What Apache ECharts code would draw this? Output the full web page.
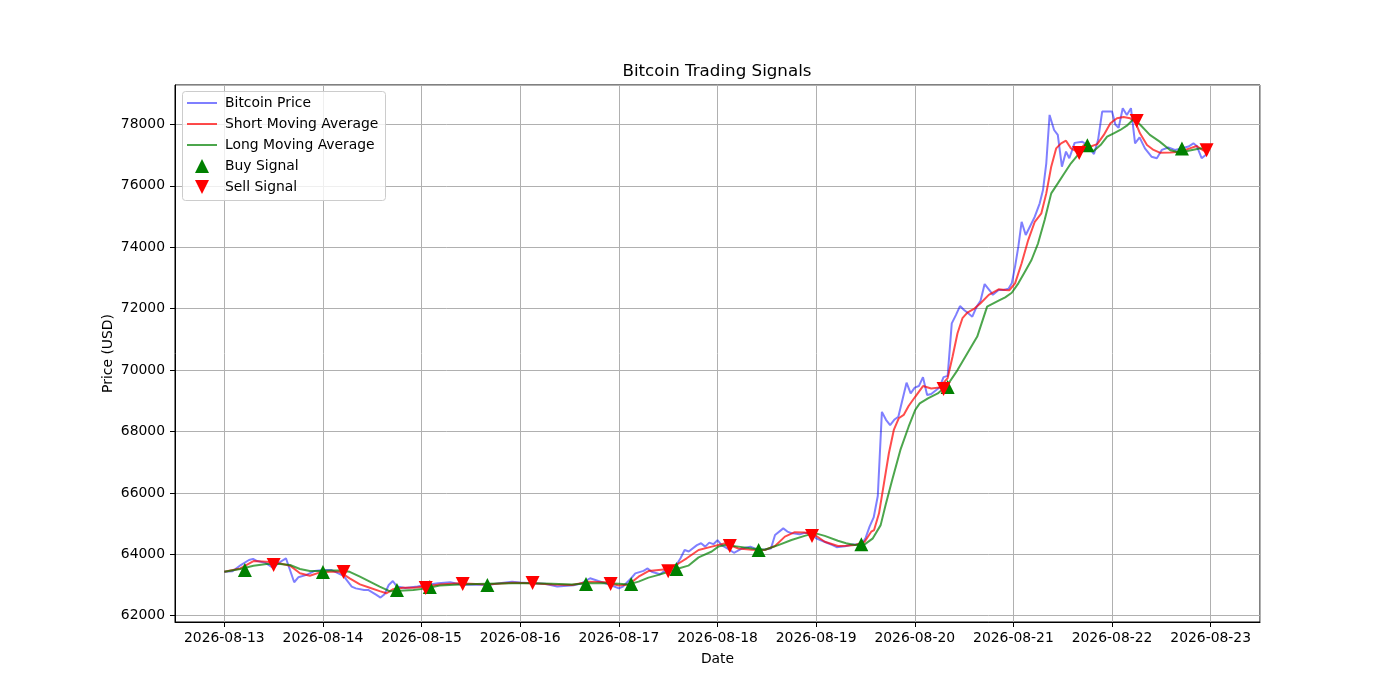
<!DOCTYPE html>
<html>
<head>
<meta charset="utf-8">
<title>Bitcoin Trading Signals</title>
<script src="https://cdn.jsdelivr.net/npm/echarts@6/dist/echarts.min.js"></script>
<style>
  html, body { margin: 0; padding: 0; background: #fff; }
  #main { width: 1400px; height: 700px; }
</style>
</head>
<body>
<div id="main"></div>
<script>
// Hours after 2026-08-13 00:00 and the values
var priceHours = [0, 2, 4, 6, 7, 8, 10, 12, 13, 15, 17, 18, 20, 22, 24, 26, 27, 29, 31, 32,
    34, 35, 37, 38, 39, 40, 41, 42, 44, 47, 49, 52, 55, 58, 60, 64, 67, 70, 72, 75,
    78, 81, 85, 87, 89, 91, 94, 96, 97, 99, 100, 102, 103, 104, 106, 108, 110, 111, 112, 113,
    115, 116, 117, 118, 119, 120, 121, 123, 124, 126, 128, 129, 131, 133, 134, 136, 137, 138, 140, 141,
    143, 144, 146, 148, 149, 151, 153, 155, 156, 157, 158, 159, 160, 161, 162, 163, 164, 166, 167, 168,
    169, 170, 171, 172, 174, 175, 176, 177, 178, 179, 180, 181, 182, 183, 184, 185, 186.2, 187, 188.4, 189.6,
    190.8, 191.6, 192.4, 193.2, 194, 195, 196, 197.2, 198.4, 199.2, 200, 200.8, 201.9, 202.8, 203.8, 204.8, 205.6, 206.9, 208.7, 210,
    211.6, 212.6, 213.6, 216, 216.8, 217.6, 218.6, 219.6, 220.6, 221.6, 222.7, 224, 225.6, 226.9, 228.1, 229.7, 231.3, 232.9, 234.6, 235.8,
    236.6, 237.8, 239.3];
var priceValues = [63430, 63450, 63650, 63815, 63850, 63780, 63720, 63550, 63700, 63870, 63090, 63250, 63330, 63460, 63490, 63490, 63430, 63300, 62950, 62890,
    62840, 62840, 62680, 62590, 62700, 63000, 63130, 62950, 62900, 62950, 63000, 63060, 63090, 63000, 63020, 63000, 63060, 63110, 63080, 63060,
    63040, 62950, 62990, 63060, 63220, 63130, 63000, 62890, 62950, 63220, 63380, 63460, 63540, 63430, 63350, 63540, 63650, 63870, 64140, 64090,
    64300, 64360, 64250, 64380, 64330, 64460, 64300, 64140, 64050, 64190, 64250, 64190, 64150, 64190, 64630, 64845, 64740, 64690, 64650, 64690,
    64690, 64520, 64410, 64300, 64230, 64260, 64320, 64320, 64520, 64900, 65200, 65900, 68640, 68380, 68210, 68380, 68480, 69590, 69240, 69430,
    69480, 69770, 69190, 69220, 69430, 69770, 69810, 71520, 71790, 72085, 71955, 71850, 71740, 72050, 72260, 72800, 72600, 72450, 72610, 72610,
    72650, 72825, 73370, 74020, 74830, 74400, 74670, 74995, 75430, 75865, 76735, 78310, 77820, 77660, 76625, 77115, 76900, 77400, 77440, 77330,
    77035, 77500, 78420, 78420, 78000, 77890, 78530, 78310, 78530, 77385, 77580, 77220, 76950, 76900, 77170, 77250, 77170, 77220, 77280, 77385,
    77300, 76900, 77060];

var shortHours = [0, 3.9, 7.1, 10.3, 13.6, 16, 18.4, 20.8, 23.3, 25.7, 28.1, 30.5, 33, 35.4, 37.8, 39.4, 41, 43.5, 46, 48.4,
    52.4, 57.2, 63.7, 70.1, 74.9, 79.8, 84.6, 88.7, 92.7, 96, 98.4, 100.8, 103.2, 105.7, 108.1, 110.5, 112.5, 115.4, 118.6, 121.9,
    125.1, 128.4, 131.5, 134, 136.4, 138.8, 141.2, 143.7, 146.1, 149.3, 151.3, 153.4, 155.8, 157.4, 158.1, 159.3, 160.5, 161.7, 162.9, 164.1,
    165.3, 166.5, 168.1, 170, 172, 174, 176, 177.2, 178.4, 179.6, 180.8, 182.4, 184, 186, 188.4, 190, 191, 192.4, 194, 195.6,
    197.2, 198.8, 200, 201.2, 202.4, 203.6, 204.8, 206, 207.6, 209.2, 210.8, 212.4, 214, 215.6, 217.2, 218.8, 220.4, 221.6, 222.8, 224.5,
    226.1, 227.6, 230.1, 232.5, 234.9, 236.6, 238.2, 239.3];
var shortValues = [63430, 63540, 63780, 63760, 63700, 63630, 63380, 63300, 63410, 63430, 63430, 63215, 63020, 62910, 62800, 62730, 62860, 62910, 62910, 62945,
    63020, 63055, 63020, 63075, 63055, 63020, 63000, 63110, 63090, 62985, 63020, 63270, 63455, 63490, 63520, 63700, 63870, 64140, 64250, 64360,
    64190, 64150, 64140, 64270, 64575, 64720, 64710, 64630, 64410, 64270, 64280, 64300, 64410, 64735, 64790, 65335, 66310, 67290, 68050, 68430,
    68540, 68830, 69130, 69480, 69400, 69430, 69740, 70440, 71200, 71690, 71870, 71990, 72175, 72450, 72630, 72610, 72600, 72825, 73480, 74235,
    74830, 75105, 75755, 76625, 77220, 77385, 77470, 77220, 77110, 77330, 77280, 77360, 77660, 78040, 78200, 78240, 78200, 78100, 77710, 77330,
    77170, 77080, 77090, 77110, 77220, 77300, 77150, 77170];

var longHours = [0, 3.9, 7.1, 10.3, 13.6, 16, 18.4, 20.8, 23.3, 25.7, 28.1, 30.5, 33, 35.4, 37.8, 40.2, 42.6, 46, 49.2, 52.4,
    57.2, 63.7, 70.1, 74.9, 79.8, 84.6, 88.7, 92.7, 96, 98.4, 100.8, 103.2, 105.7, 108.1, 110.5, 112.9, 115.4, 118.6, 120.2, 121.9,
    125.1, 128.4, 131.5, 134.8, 138, 141.2, 143.7, 146.1, 149.3, 151.3, 153.4, 155.8, 157.8, 159.7, 160.9, 162.5, 164.5, 166.5, 168.1, 169.2,
    171.2, 173.6, 176, 178.4, 180.8, 183.2, 185.6, 188.4, 190, 191.6, 193.2, 194.8, 196.4, 198, 199.6, 201.2, 202.8, 204.4, 206, 207.6,
    209.6, 211.6, 213.2, 214.8, 216.4, 218, 219.6, 221.2, 222.8, 225.2, 227.6, 230.1, 232.5, 234.9, 237.3, 239.3];
var longValues = [63430, 63520, 63630, 63685, 63685, 63650, 63520, 63455, 63455, 63475, 63475, 63430, 63270, 63110, 62945, 62800, 62815, 62835, 62890, 62985,
    63020, 63040, 63055, 63055, 63040, 63020, 63055, 63055, 63040, 63020, 63110, 63240, 63330, 63430, 63540, 63630, 63900, 64090, 64250, 64300,
    64250, 64190, 64150, 64300, 64465, 64600, 64690, 64600, 64440, 64360, 64300, 64325, 64520, 64950, 65605, 66420, 67400, 68155, 68700, 68915,
    69080, 69240, 69520, 70000, 70545, 71090, 72065, 72260, 72370, 72520, 72825, 73205, 73585, 74130, 74890, 75755, 76080, 76410, 76735, 76990,
    77220, 77140, 77330, 77600, 77710, 77820, 77960, 78170, 78000, 77660, 77440, 77170, 77080, 77150, 77220, 77220];

var buyHours = [5, 24, 42, 50, 64, 88, 99, 110, 130, 155, 176, 210, 233];
var buyValues = [63485, 63420, 62835, 62935, 63000, 63030, 63030, 63520, 64140, 64330, 69450, 77320, 77220];
var sellHours = [12, 29, 49, 58, 75, 94, 108, 123, 143, 175, 208, 222, 239];
var sellValues = [63650, 63420, 62900, 63030, 63065, 63030, 63450, 64270, 64600, 69385, 77070, 78110, 77160];

var HOUR = 3600 * 1000;
var startTime = new Date(2026, 7, 13, 0, 0, 0).getTime();
var font = 'DejaVu Sans';

// legend / marker shapes
var lineIcon = 'path://M0,0 L30,0 L30,2 L0,2 Z';
var upTriangle = 'path://M5,0 L10,10 L0,10 Z';
var downTriangle = 'path://M0,0 L10,0 L5,10 Z';

function toPoints(hours, values) {
    return hours.map(function (h, i) { return [startTime + h * HOUR, values[i]]; });
}

var myChart = echarts.init(document.getElementById('main'), null, { renderer: 'canvas' });

var option = {
    animation: false,
    backgroundColor: '#fff',
    title: {
        text: 'Bitcoin Trading Signals',
        left: 717,
        top: 63,
        textAlign: 'center',
        padding: 0,
        textStyle: { fontSize: 16.7, fontWeight: 'normal', color: '#000', fontFamily: font }
    },
    grid: {
        left: 175, right: 140, top: 85, bottom: 78,
        show: true, borderColor: '#000', borderWidth: 1, backgroundColor: 'transparent'
    },
    graphic: [{
        type: 'rect',
        left: 182, top: 91,
        z: 3,
        shape: { width: 203, height: 109, r: 3 },
        style: { fill: 'rgba(255,255,255,0.8)', stroke: '#cccccc', lineWidth: 1 }
    }],
    legend: {
        orient: 'vertical',
        left: 187, top: 96,
        itemWidth: 30, itemHeight: 14, itemGap: 7,
        padding: 0,
        selectedMode: false,
        symbolKeepAspect: true,
        data: [
            { name: 'Bitcoin Price', icon: lineIcon },
            { name: 'Short Moving Average', icon: lineIcon },
            { name: 'Long Moving Average', icon: lineIcon },
            { name: 'Buy Signal', icon: upTriangle },
            { name: 'Sell Signal', icon: downTriangle }
        ],
        textStyle: { fontSize: 13.9, color: '#000', fontFamily: font, lineHeight: 14, padding: [0, 0, 0, 3] }
    },
    xAxis: {
        type: 'time',
        min: startTime - 12 * HOUR,
        max: startTime + 252 * HOUR,
        minInterval: 24 * HOUR,
        maxInterval: 24 * HOUR,
        name: 'Date',
        nameLocation: 'middle',
        nameGap: 30,
        nameMoveOverlap: false,
        nameTextStyle: { fontSize: 13.9, color: '#000', fontFamily: font },
        axisLine: { show: true, lineStyle: { color: '#000', width: 1 } },
        axisTick: { show: true, inside: false, length: 5, lineStyle: { color: '#000', width: 1 } },
        axisLabel: {
            formatter: '{yyyy}-{MM}-{dd}',
            showMinLabel: false, showMaxLabel: false,
            margin: 9, fontSize: 13.9, color: '#000', fontFamily: font
        },
        splitLine: { show: true, lineStyle: { color: '#b0b0b0', width: 1 } }
    },
    yAxis: {
        type: 'value',
        min: 61795,
        max: 79285,
        splitNumber: 8,
        name: 'Price (USD)',
        nameLocation: 'middle',
        nameGap: 60,
        nameMoveOverlap: false,
        nameTextStyle: { fontSize: 13.9, color: '#000', fontFamily: font },
        axisLine: { show: true, lineStyle: { color: '#000', width: 1 } },
        axisTick: { show: true, inside: false, length: 5, lineStyle: { color: '#000', width: 1 } },
        axisLabel: {
            formatter: function (v) { return String(v); },
            showMinLabel: false, showMaxLabel: false,
            margin: 10, fontSize: 13.9, color: '#000', fontFamily: font
        },
        splitLine: { show: true, lineStyle: { color: '#b0b0b0', width: 1 } }
    },
    series: [
        {
            name: 'Bitcoin Price',
            type: 'line',
            symbol: 'none',
            data: toPoints(priceHours, priceValues),
            itemStyle: { color: 'rgba(0,0,255,0.5)' },
            lineStyle: { color: 'rgba(0,0,255,0.5)', width: 2 }
        },
        {
            name: 'Short Moving Average',
            type: 'line',
            symbol: 'none',
            data: toPoints(shortHours, shortValues),
            itemStyle: { color: 'rgba(255,0,0,0.7)' },
            lineStyle: { color: 'rgba(255,0,0,0.7)', width: 2 }
        },
        {
            name: 'Long Moving Average',
            type: 'line',
            symbol: 'none',
            data: toPoints(longHours, longValues),
            itemStyle: { color: 'rgba(0,128,0,0.7)' },
            lineStyle: { color: 'rgba(0,128,0,0.7)', width: 2 }
        },
        {
            name: 'Buy Signal',
            type: 'scatter',
            symbol: upTriangle,
            symbolSize: 14,
            z: 5,
            data: toPoints(buyHours, buyValues),
            itemStyle: { color: '#008000', opacity: 1 }
        },
        {
            name: 'Sell Signal',
            type: 'scatter',
            symbol: downTriangle,
            symbolSize: 14,
            z: 5,
            data: toPoints(sellHours, sellValues),
            itemStyle: { color: '#ff0000', opacity: 1 }
        }
    ]
};

myChart.setOption(option);
</script>
</body>
</html>
